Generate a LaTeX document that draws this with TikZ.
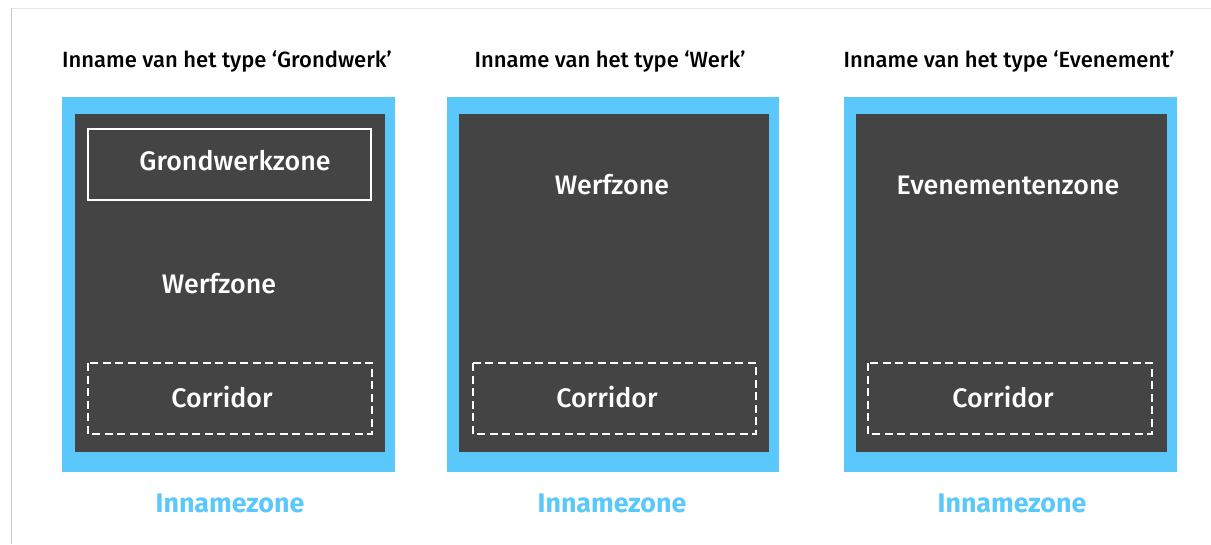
\documentclass[tikz,border=0pt]{standalone}
\usepackage{fontspec}
\setmainfont{Fira Sans}
\newfontfamily\medfont{Fira Sans Medium}
\definecolor{zoneblue}{HTML}{5AC8FA}
\definecolor{zonedark}{HTML}{444444}
\definecolor{edgegray}{HTML}{E6E6E6}
\definecolor{edgegray2}{HTML}{C8C8C8}
\begin{document}
\begin{tikzpicture}[x=1pt,y=-1pt,
  outerbox/.style={fill=zoneblue,draw=none},
  innerbox/.style={fill=zonedark,draw=none},
  solidzone/.style={draw=white,line width=2pt},
  dashzone/.style={draw=white,line width=2pt,dash pattern=on 8pt off 4.5pt},
  title/.style={font=\fontsize{22}{26}\selectfont\medfont,text=black,inner sep=0pt,anchor=base},
  zonelabel/.style={font=\fontsize{26.8}{31}\selectfont\medfont,text=white,inner sep=0pt},
  innlabel/.style={font=\fontsize{26.8}{31}\selectfont\bfseries,text=zoneblue,inner sep=0pt}]
\useasboundingbox (0,0) rectangle (1211,544);
\fill[white] (0,0) rectangle (1211,544);
\draw[edgegray,line width=1pt] (11,8) -- (1211,8);
\draw[edgegray2,line width=1pt] (11.5,8) -- (11.5,544);
% panel 1
\fill[outerbox] (62,97) rectangle (395,471.5);
\fill[innerbox] (74.5,114) rectangle (384.5,451.5);
\draw[solidzone] (88,129) rectangle (371,200);
\draw[dashzone] (88,363) rectangle (372,434);
\node[title] (t1) at (227,67.3) {Inname van het type ‘Grondwerk’};
\node[zonelabel] (g1) at (235,161) {Grondwerkzone};
\node[zonelabel] (w1) at (219,284) {Werfzone};
\node[zonelabel] (c1) at (222,397) {Corridor};
\node[innlabel] (i1) at (230,503) {Innamezone};
% panel 2
\fill[outerbox] (447,97) rectangle (779,471.5);
\fill[innerbox] (459,114) rectangle (769.3,451.5);
\draw[dashzone] (472.5,363) rectangle (756,433.5);
\node[title] (t2) at (610,67.3) {Inname van het type ‘Werk’};
\node[zonelabel] (w2) at (612,185) {Werfzone};
\node[zonelabel] (c2) at (607,397) {Corridor};
\node[innlabel] (i2) at (612,503) {Innamezone};
% panel 3
\fill[outerbox] (844,97) rectangle (1177,471.5);
\fill[innerbox] (856,114) rectangle (1166.5,451.5);
\draw[dashzone] (868,363) rectangle (1152,434);
\node[title] (t3) at (1009,67.3) {Inname van het type ‘Evenement’};
\node[zonelabel] (e3) at (1008,185) {Evenementenzone};
\node[zonelabel] (c3) at (1003,397) {Corridor};
\node[innlabel] (i3) at (1012,503) {Innamezone};
\end{tikzpicture}
\end{document}
